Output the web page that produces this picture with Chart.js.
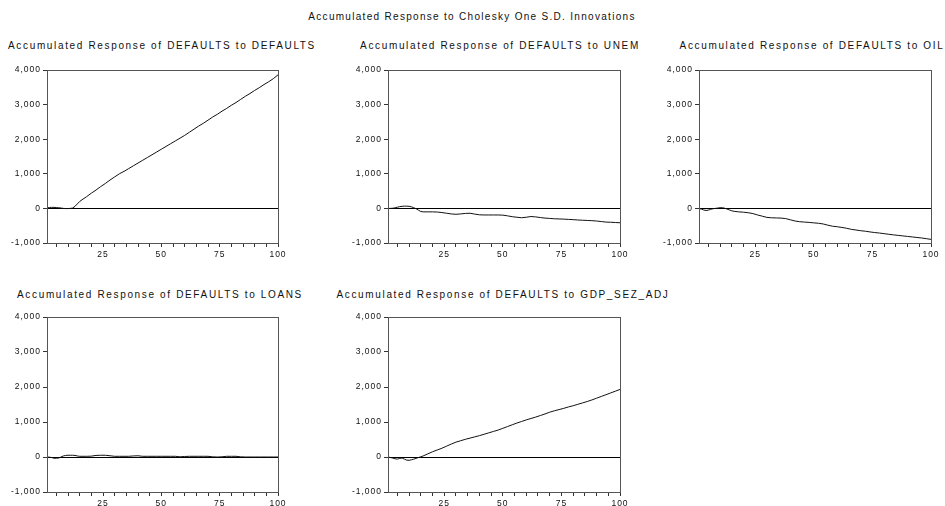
<!DOCTYPE html>
<html>
<head>
<meta charset="utf-8">
<script src="https://cdn.jsdelivr.net/npm/chart.js@4"></script>
<style>
  body { margin: 0; background: #fff; width: 945px; height: 506px; position: relative; overflow: hidden; }
  .ttl { position: absolute; font-family: "Liberation Sans", Arial, sans-serif; font-size: 10px; color: #111;
         white-space: nowrap; transform: translateX(-50%); letter-spacing: 1.65px; }
  .box { position: absolute; }
</style>
</head>
<body>
<div class="ttl" id="main-title" style="left:472px; top:11px; letter-spacing:1.3px;">Accumulated Response to Cholesky One S.D. Innovations</div>

<script>
/* ================= DATA ================= */
const periods = [1,2,3,4,5,6,7,8,9,10,11,12,13,14,15,16,18,20,22,24,26,28,30,32,34,36,38,40,42,44,46,48,50,
                 52,54,56,58,60,62,64,66,68,70,72,74,76,78,80,82,84,86,88,90,92,94,96,98,100];

const respDefaults = [15,25,30,30,25,20,10,0,-5,-5,0,10,60,130,200,250,340,440,530,630,720,820,910,1000,1070,1150,1230,1310,1390,
                      1470,1550,1630,1710,1790,1870,1950,2030,2110,2200,2290,2380,2460,2550,2640,2720,2810,2890,2980,3060,3150,
                      3240,3320,3410,3490,3580,3660,3750,3860];

const respUnem = [0,0,5,15,35,50,60,65,65,60,45,20,-10,-50,-90,-100,-100,-100,-105,-120,-140,-160,-170,-160,-145,-140,-165,-185,
                  -190,-190,-190,-190,-195,-215,-240,-255,-270,-255,-235,-245,-265,-280,-290,-300,-305,-310,-318,-325,-335,-342,
                  -348,-355,-365,-380,-395,-400,-408,-415];

const respOil = [0,-20,-45,-60,-50,-25,-10,0,10,20,20,5,-20,-45,-70,-85,-100,-110,-125,-150,-190,-225,-260,-272,-276,-280,-295,-330,
                 -365,-385,-395,-405,-418,-430,-450,-485,-515,-530,-550,-575,-605,-625,-645,-660,-680,-698,-712,-730,-748,-765,
                 -780,-795,-810,-825,-840,-855,-875,-895];

const respLoans = [0,-5,-15,-35,-35,-30,0,30,45,50,50,50,45,30,20,20,20,25,45,50,50,35,20,20,20,20,30,35,20,20,20,20,20,20,20,20,
                   5,15,20,20,20,20,20,5,0,5,20,20,20,5,0,0,0,0,0,0,0,0];

const respGdp = [0,-15,-30,-50,-60,-40,-30,-60,-90,-95,-80,-60,-40,-15,5,30,90,150,200,250,310,370,425,465,505,540,575,610,650,690,
                 730,770,820,870,920,970,1015,1060,1100,1140,1185,1230,1280,1320,1355,1390,1430,1465,1505,1545,1585,1630,1680,
                 1730,1780,1830,1880,1930];

const titles = [
    "Accumulated Response of  DEFAULTS to DEFAULTS",
    "Accumulated Response of  DEFAULTS to UNEM",
    "Accumulated Response of  DEFAULTS to OIL",
    "Accumulated Response of  DEFAULTS to LOANS",
    "Accumulated Response of  DEFAULTS to GDP_SEZ_ADJ"
];
const seriesList = [respDefaults, respUnem, respOil, respLoans, respGdp];

const yTicks = [-1000, 0, 1000, 2000, 3000, 4000];
const xTicks = [5,10,15,20,25,30,35,40,45,50,55,60,65,70,75,80,85,90,95,100];
const xLabelTicks = [25, 50, 75, 100];

/* ================= LAYOUT ================= */
const panels = [
    { left: 11,  top: 62,  width: 281, height: 203, titleX: 162, titleY: 40 },
    { left: 352, top: 62,  width: 282, height: 203, titleX: 500, titleY: 40 },
    { left: 663, top: 62,  width: 282, height: 203, titleX: 812, titleY: 40 },
    { left: 11,  top: 309, width: 281, height: 205, titleX: 160, titleY: 289 },
    { left: 352, top: 309, width: 282, height: 205, titleX: 503, titleY: 289 }
];

// box round the plot + spaced tick text
const frame = {
    id: "frame",
    beforeLayout(chart) { chart.ctx.letterSpacing = "1px"; },
    beforeDraw(chart) { chart.ctx.letterSpacing = "1px"; },
    afterDraw(chart) {
        const a = chart.chartArea, c = chart.ctx;
        c.save();
        c.strokeStyle = "#555";
        c.lineWidth = 1;
        c.strokeRect(Math.round(a.left) + 0.5, Math.round(a.top) + 0.5,
                     Math.round(a.right - a.left), Math.round(a.bottom - a.top));
        c.restore();
    }
};

const tickFont = { family: "'Liberation Sans', Arial, sans-serif", size: 8.5 };

panels.forEach((p, i) => {
    const t = document.createElement("div");
    t.className = "ttl";
    t.style.left = p.titleX + "px";
    t.style.top = p.titleY + "px";
    t.textContent = titles[i];
    document.body.appendChild(t);

    const box = document.createElement("div");
    box.className = "box";
    box.style.left = p.left + "px";
    box.style.top = p.top + "px";
    const cv = document.createElement("canvas");
    cv.width = p.width;
    cv.height = p.height;
    box.appendChild(cv);
    document.body.appendChild(box);

    const vals = seriesList[i];
    new Chart(cv.getContext("2d"), {
        type: "line",
        data: {
            datasets: [{
                data: periods.map((x, k) => ({ x: x, y: vals[k] })),
                borderColor: "#111",
                borderWidth: 1,
                pointRadius: 0,
                tension: 0,
                fill: false
            }]
        },
        options: {
            responsive: false,
            animation: false,
            layout: { padding: { left: 0, top: 8, right: 14, bottom: 0 } },
            plugins: { legend: { display: false }, tooltip: { enabled: false } },
            scales: {
                x: {
                    type: "linear",
                    min: 1,
                    max: 100,
                    afterBuildTicks: s => { s.ticks = xTicks.map(v => ({ value: v })); },
                    afterFit: s => { s.height = 22; },
                    ticks: {
                        autoSkip: false,
                        maxRotation: 0,
                        color: "#111",
                        font: tickFont,
                        padding: 3,
                        callback: v => xLabelTicks.includes(v) ? String(v) : ""
                    },
                    grid: { drawOnChartArea: false, tickLength: 4, tickColor: "#333" },
                    border: { color: "#555" }
                },
                y: {
                    min: -1000,
                    max: 4000,
                    afterBuildTicks: s => { s.ticks = yTicks.map(v => ({ value: v })); },
                    afterFit: s => { s.width = 36; },
                    ticks: {
                        color: "#111",
                        font: tickFont,
                        padding: 2,
                        callback: v => v.toLocaleString("en-US")
                    },
                    grid: {
                        drawOnChartArea: true,
                        color: c => c.tick && c.tick.value === 0 ? "#000" : "rgba(0,0,0,0)",
                        tickLength: 4,
                        tickColor: "#333"
                    },
                    border: { color: "#555" }
                }
            }
        },
        plugins: [frame]
    });
});
</script>
</body>
</html>
